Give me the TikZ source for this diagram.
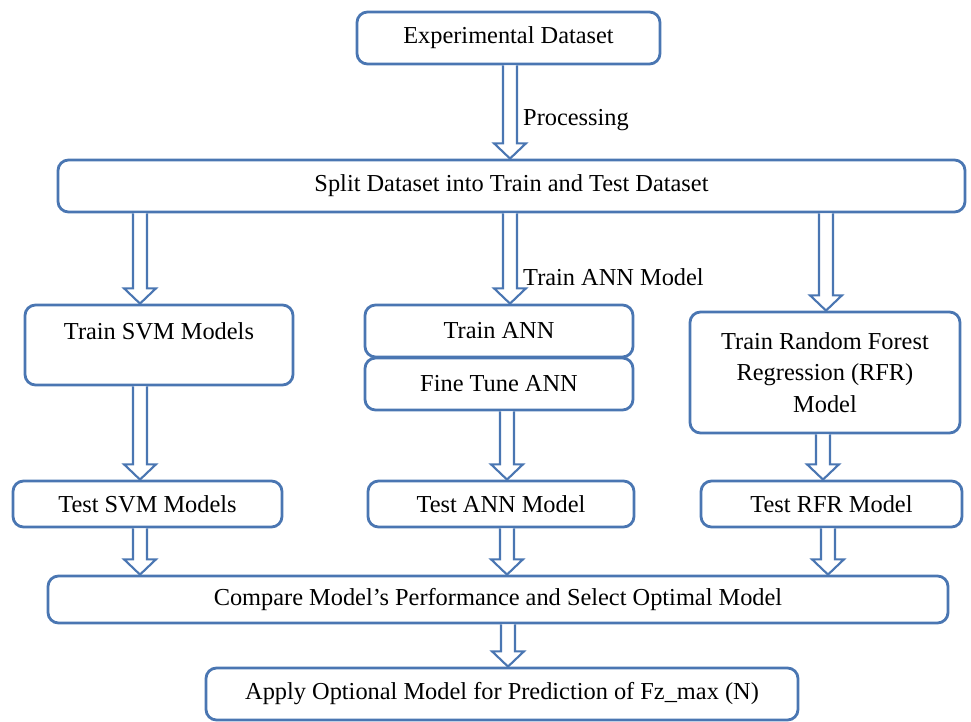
\documentclass[tikz,border=0pt]{standalone}
\usepackage{fontspec}
\setmainfont{Liberation Serif}
\usepackage{tikz}
\usetikzlibrary{arrows.meta,positioning,calc}
\definecolor{mLine}{RGB}{74,118,178}

\tikzset{
  box/.style={draw=mLine, line width=2.4pt, rounded corners=9pt, inner sep=0pt,
    align=center, font=\fontsize{20.8}{27}\selectfont},
  lbl/.style={font=\fontsize{20.8}{27}\selectfont, inner sep=0pt, anchor=west},
  hollow/.style={draw=mLine, line width=1.8pt, line join=miter, fill=white},
}

% hollow down arrow: #1 column, #2 from node, #3 to node
\newcommand{\hollowdown}[3]{%
  \draw[hollow] let \p1=(#2.south -| #1), \p2=(#3.north -| #1) in
    (\x1-6pt,\y1) -- (\x1-6pt,\y2+13pt) -- (\x1-13.6pt,\y2+13pt) -- (\x1,\y2)
    -- (\x1+13.6pt,\y2+13pt) -- (\x1+6pt,\y2+13pt) -- (\x1+6pt,\y1);}

\begin{document}
\begin{tikzpicture}[x=0.03cm, y=-0.03cm]
    \useasboundingbox (0,0) rectangle (971,722);

    % Boxes
    \node[box, minimum width=9.09cm, minimum height=1.56cm] (exp) at (508.5,38) {Experimental Dataset};
    \node[box, minimum width=27.21cm, minimum height=1.56cm] (split) at (511.5,186) {Split Dataset into Train and Test Dataset};
    \node[box, minimum width=8.04cm, minimum height=2.4cm] (tsvm) at (159,345) {Train SVM Models\\[-3pt]\mbox{}};
    \node[box, minimum width=8.04cm, minimum height=1.56cm] (tann) at (499,331) {Train ANN};
    \node[box, minimum width=8.04cm, minimum height=1.56cm] (fann) at (499,384) {Fine Tune ANN};
    \node[box, minimum width=8.1cm, minimum height=3.63cm] (trfr) at (825,372.5) {Train Random Forest\\Regression (RFR)\\Model};
    \node[box, minimum width=8.07cm, minimum height=1.38cm] (esvm) at (147.5,504) {Test SVM Models};
    \node[box, minimum width=7.98cm, minimum height=1.38cm] (eann) at (501,504) {Test ANN Model};
    \node[box, minimum width=7.83cm, minimum height=1.38cm] (erfr) at (831.5,504) {Test RFR Model};
    \node[box, minimum width=27cm, minimum height=1.41cm] (cmp) at (498,599.5) {Compare Model’s Performance and Select Optimal Model};
    \node[box, minimum width=17.76cm, minimum height=1.56cm] (apply) at (502,694) {Apply Optional Model for Prediction of Fz\_max (N)};

    % Arrow columns
    \coordinate (cTop) at (510,0);
    \coordinate (cA) at (140,0);
    \coordinate (cB) at (510,0);
    \coordinate (cC) at (826,0);
    \coordinate (cB2) at (507,0);
    \coordinate (cC2) at (823,0);
    \coordinate (cC3) at (828,0);
    \coordinate (cBot) at (508,0);

    \hollowdown{cTop}{exp}{split}
    \hollowdown{cA}{split}{tsvm}
    \hollowdown{cB}{split}{tann}
    \hollowdown{cC}{split}{trfr}
    \hollowdown{cA}{tsvm}{esvm}
    \hollowdown{cB2}{fann}{eann}
    \hollowdown{cC2}{trfr}{erfr}
    \hollowdown{cA}{esvm}{cmp}
    \hollowdown{cB2}{eann}{cmp}
    \hollowdown{cC3}{erfr}{cmp}
    \hollowdown{cBot}{cmp}{apply}

    % Arrow labels
    \node[lbl] (lproc) at (523,120) {Processing};
    \node[lbl] (lann) at (523,277) {Train ANN Model};
\end{tikzpicture}
\end{document}
